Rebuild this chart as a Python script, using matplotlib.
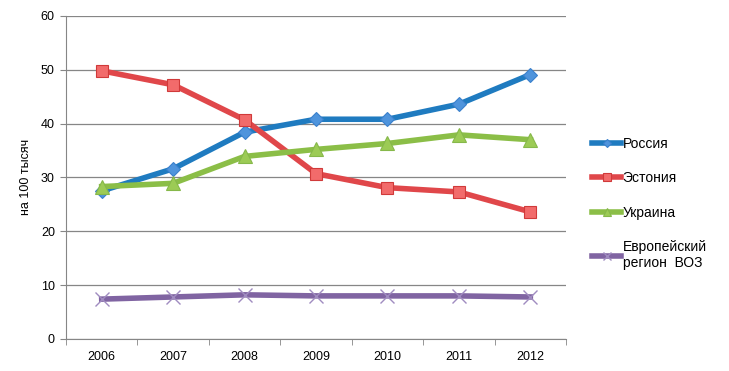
import numpy as np
import matplotlib.pyplot as plt

plt.rcParams['font.family'] = ['Liberation Sans', 'DejaVu Sans']

years = ['2006', '2007', '2008', '2009', '2010', '2011', '2012']
russia = [27.5, 31.6, 38.4, 40.8, 40.8, 43.6, 49.1]
estonia = [49.8, 47.2, 40.7, 30.7, 28.1, 27.3, 23.6]
ukraine = [28.3, 28.9, 33.9, 35.2, 36.3, 37.9, 37.0]
euro = [7.4, 7.8, 8.2, 8.0, 8.0, 8.0, 7.8]

x = np.arange(len(years))

fig = plt.figure(figsize=(7.29, 3.71), dpi=100)
ax = fig.add_axes([0.0905, 0.0863, 0.686, 0.871])

ax.plot(x, russia, color='#1F7BC0', lw=4, marker='D', ms=7,
        mfc='#4F94DC', mec='#3A80CC', mew=0.8, label='Россия', zorder=3)
ax.plot(x, estonia, color='#E0474A', lw=4, marker='s', ms=9,
        mfc='#F26B6B', mec='#D03A3A', mew=0.8, label='Эстония', zorder=3)
ax.plot(x, ukraine, color='#8BBE47', lw=4, marker='^', ms=10,
        mfc='#9CCB55', mec='#86B84A', mew=0.8, label='Украина', zorder=3)
ax.plot(x, euro, color='#8064A2', lw=4, marker='x', ms=10,
        mec='#A08CC0', mew=1, label='Европейский\nрегион  ВОЗ', zorder=3)

ax.set_xlim(-0.5, 6.5)
ax.set_ylim(0, 60)
ax.set_yticks(range(0, 61, 10))
ax.set_xticks(x)
ax.set_xticklabels(years)
ax.set_xticks(np.arange(-0.5, 7, 1), minor=True)
ax.tick_params(axis='x', which='major', length=0, pad=9, labelsize=9)
ax.tick_params(axis='x', which='minor', length=4, color='#868686')
ax.tick_params(axis='y', length=4, color='#868686', labelsize=9, pad=4)

ax.grid(axis='y', color='#868686', lw=0.9)
ax.set_axisbelow(True)
for s in ['top', 'right']:
    ax.spines[s].set_visible(False)
for s in ['left', 'bottom']:
    ax.spines[s].set_color('#868686')

ax.set_ylabel('на 100 тысяч', fontsize=9)
ax.yaxis.set_label_coords(-0.068, 0.5)

ax.legend(loc='upper left', bbox_to_anchor=(1.027, 0.665), frameon=False,
          fontsize=10, handlelength=2.1, handletextpad=0.1, labelspacing=1.48,
          markerscale=0.6)

fig.savefig('out.png', dpi=100)
